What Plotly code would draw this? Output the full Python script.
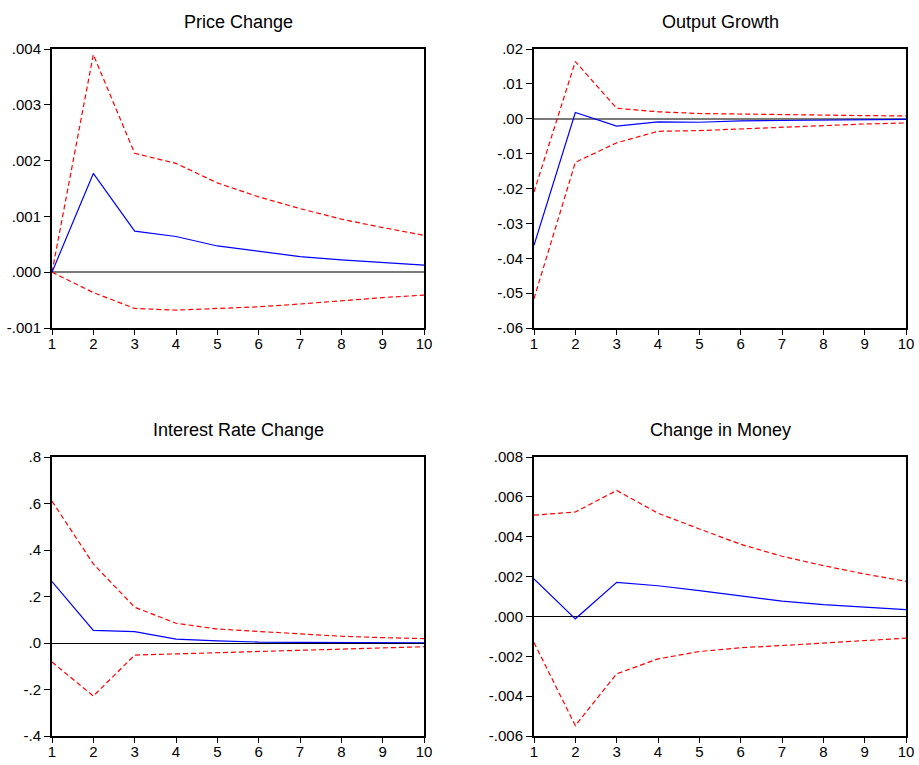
import plotly.graph_objects as go

# Impulse responses over a 10-period horizon, with +/- 2 S.E. bands
periods = list(range(1, 11))

price_resp = [0.0, 0.00177, 0.000737, 0.00064, 0.00047, 0.00038, 0.00028, 0.00022, 0.00017, 0.000126]
price_upper = [0.0, 0.00390, 0.00213, 0.00195, 0.00160, 0.00135, 0.00114, 0.00095, 0.00080, 0.00066]
price_lower = [0.0, -0.000365, -0.00065, -0.00068, -0.00065, -0.00062, -0.00057, -0.00051, -0.000455, -0.00041]

output_resp = [-0.0363, 0.0018, -0.0021, -0.0009, -0.0010, -0.0006, -0.0005, -0.0004, -0.0003, -0.0002]
output_upper = [-0.0210, 0.0164, 0.0030, 0.0020, 0.0015, 0.0013, 0.0011, 0.0010, 0.0009, 0.0008]
output_lower = [-0.0516, -0.0125, -0.0069, -0.0036, -0.0034, -0.0029, -0.0024, -0.0019, -0.0015, -0.0012]

rate_resp = [0.264, 0.0546, 0.049, 0.017, 0.009, 0.004, 0.003, 0.002, 0.0015, 0.001]
rate_upper = [0.610, 0.340, 0.154, 0.085, 0.060, 0.049, 0.037, 0.029, 0.023, 0.019]
rate_lower = [-0.082, -0.228, -0.052, -0.047, -0.042, -0.037, -0.032, -0.026, -0.020, -0.016]

money_resp = [0.00188, -0.00012, 0.00171, 0.00154, 0.00129, 0.00102, 0.00077, 0.00059, 0.00047, 0.00034]
money_upper = [0.00508, 0.00524, 0.00632, 0.00518, 0.00439, 0.00362, 0.00302, 0.00255, 0.00213, 0.00176]
money_lower = [-0.00131, -0.00548, -0.00288, -0.00213, -0.00176, -0.00157, -0.00146, -0.00134, -0.00121, -0.00109]

titles = ["Price Change", "Output Growth", "Interest Rate Change", "Change in Money"]

price_ticks = [-0.001, 0.0, 0.001, 0.002, 0.003, 0.004]
price_labels = ["-.001", ".000", ".001", ".002", ".003", ".004"]
output_ticks = [-0.06, -0.05, -0.04, -0.03, -0.02, -0.01, 0.0, 0.01, 0.02]
output_labels = ["-.06", "-.05", "-.04", "-.03", "-.02", "-.01", ".00", ".01", ".02"]
rate_ticks = [-0.4, -0.2, 0.0, 0.2, 0.4, 0.6, 0.8]
rate_labels = ["-.4", "-.2", ".0", ".2", ".4", ".6", ".8"]
money_ticks = [-0.006, -0.004, -0.002, 0.0, 0.002, 0.004, 0.006, 0.008]
money_labels = ["-.006", "-.004", "-.002", ".000", ".002", ".004", ".006", ".008"]

W, H = 919, 765
FONT = "Arial, 'Liberation Sans', sans-serif"

panels = [
    dict(resp=price_resp, up=price_upper, lo=price_lower, ticks=price_ticks, labels=price_labels,
         yr=[-0.001, 0.004], box=(52, 424, 49, 328), zc="#7a7a7a", zw=2),
    dict(resp=output_resp, up=output_upper, lo=output_lower, ticks=output_ticks, labels=output_labels,
         yr=[-0.06, 0.02], box=(534, 906, 49, 328), zc="#7a7a7a", zw=2),
    dict(resp=rate_resp, up=rate_upper, lo=rate_lower, ticks=rate_ticks, labels=rate_labels,
         yr=[-0.4, 0.8], box=(52, 424, 457, 736), zc="#000000", zw=1),
    dict(resp=money_resp, up=money_upper, lo=money_lower, ticks=money_ticks, labels=money_labels,
         yr=[-0.006, 0.008], box=(534, 906, 457, 736), zc="#000000", zw=1),
]

fig = go.Figure()
layout = dict(
    width=W, height=H,
    margin=dict(l=0, r=0, t=0, b=0, pad=0, autoexpand=False),
    paper_bgcolor="white", plot_bgcolor="white",
    showlegend=False,
    font=dict(family=FONT, color="black", size=15),
    annotations=[],
)

for i, p in enumerate(panels):
    n = "" if i == 0 else str(i + 1)
    xa, ya = "x" + n, "y" + n
    x0, x1, y0, y1 = p["box"]
    for series, color, dash in ((p["up"], "#FF0000", "5px,3px"),
                                (p["lo"], "#FF0000", "5px,3px"),
                                (p["resp"], "#0000FF", "solid")):
        fig.add_trace(go.Scatter(x=periods, y=series, mode="lines", xaxis=xa, yaxis=ya,
                                 line=dict(color=color, width=1.2, dash=dash),
                                 hoverinfo="skip"))
    layout["xaxis" + n] = dict(
        domain=[x0 / W, x1 / W], anchor=ya, range=[1, 10], automargin=False,
        tickvals=periods, ticktext=[str(v) for v in periods],
        ticks="outside", ticklen=5, tickwidth=1, tickcolor="black",
        ticklabelstandoff=-4,
        showline=True, linecolor="black", linewidth=2, mirror=True,
        showgrid=False, zeroline=False, tickfont=dict(size=15, family=FONT),
    )
    layout["yaxis" + n] = dict(
        domain=[1 - y1 / H, 1 - y0 / H], anchor=xa, range=p["yr"], automargin=False,
        tickvals=p["ticks"], ticktext=p["labels"],
        ticks="outside", ticklen=6, tickwidth=1, tickcolor="black",
        showline=True, linecolor="black", linewidth=2, mirror=True,
        showgrid=False, zeroline=True, zerolinecolor=p["zc"], zerolinewidth=p["zw"],
        tickfont=dict(size=15, family=FONT),
    )
    layout["annotations"].append(dict(
        text=titles[i], x=(x0 + x1) / 2 / W, y=1 - (y0 - 27) / H,
        xref="paper", yref="paper", showarrow=False,
        xanchor="center", yanchor="middle",
        font=dict(size=18, family=FONT, color="black"),
    ))

fig.update_layout(**layout)
fig.write_html("out.html")
